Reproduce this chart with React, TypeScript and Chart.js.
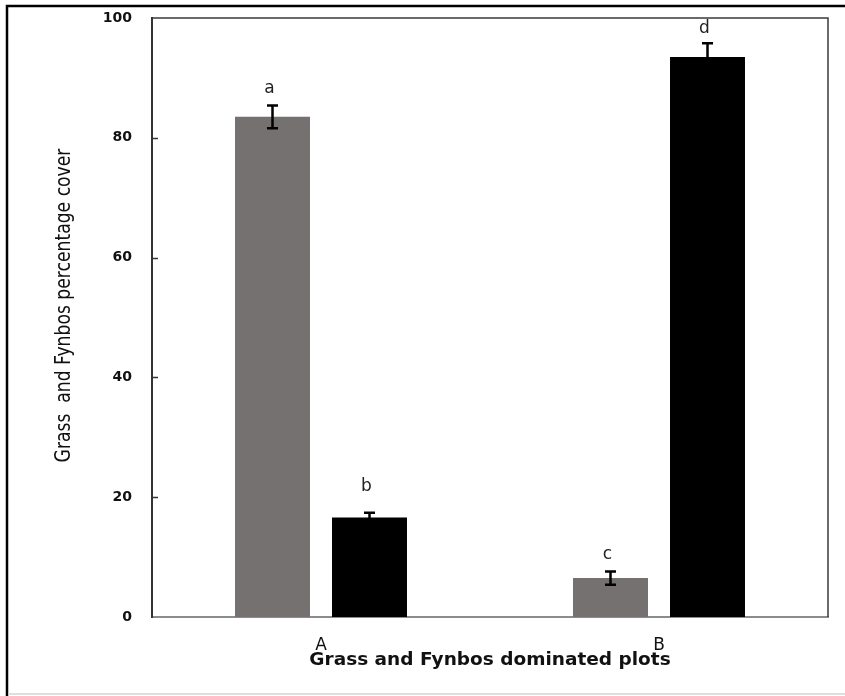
import React, { useEffect, useRef } from 'react';
import { Chart, registerables } from 'chart.js';

Chart.register(...registerables);

const categories = ['A', 'B'];
const grassCover = [83.5, 6.5];
const fynbosCover = [16.6, 93.5];
const grassError = [1.9, 1.1];
const fynbosError = [0.8, 2.3];
const grassLetters = ['a', 'c'];
const fynbosLetters = ['b', 'd'];
const grassLetterY = [87.5, 9.7];
const fynbosLetterY = [21.1, 97.5];
const yMin = 0;
const yMax = 100;
const yStep = 20;
const yTitle = 'Grass  and Fynbos percentage cover';
const xTitle = 'Grass and Fynbos dominated plots';

const errors = [grassError, fynbosError];
const letters = [grassLetters, fynbosLetters];
const letterY = [grassLetterY, fynbosLetterY];

const decorPlugin = {
  id: 'decor',
  beforeDraw(chart: any) {
    const { ctx, width, height } = chart;
    ctx.save();
    ctx.fillStyle = '#ffffff';
    ctx.fillRect(0, 0, width, height);
    // outer frame
    ctx.strokeStyle = '#000000';
    ctx.lineWidth = 2.5;
    ctx.beginPath();
    ctx.moveTo(7, height);
    ctx.lineTo(7, 6);
    ctx.lineTo(width, 6);
    ctx.stroke();
    ctx.strokeStyle = '#d4d4d4';
    ctx.lineWidth = 1.5;
    ctx.beginPath();
    ctx.moveTo(8, height - 2);
    ctx.lineTo(width, height - 2);
    ctx.stroke();
    ctx.restore();
  },
  afterDraw(chart: any) {
    const { ctx, chartArea } = chart;
    const y = chart.scales.y;
    ctx.save();
    // top & right border of plot area
    ctx.strokeStyle = '#3a3a3a';
    ctx.lineWidth = 1.5;
    ctx.beginPath();
    ctx.moveTo(chartArea.left, chartArea.top);
    ctx.lineTo(chartArea.right, chartArea.top);
    ctx.lineTo(chartArea.right, chartArea.bottom);
    ctx.stroke();
    // inward tick marks
    ctx.strokeStyle = '#333333';
    ctx.lineWidth = 1.5;
    y.ticks.forEach((t: any) => {
      if (t.value <= yMin || t.value >= yMax) return;
      const py = Math.round(y.getPixelForValue(t.value)) + 0.5;
      ctx.beginPath();
      ctx.moveTo(chartArea.left, py);
      ctx.lineTo(chartArea.left + 6, py);
      ctx.stroke();
    });
    // y axis title
    ctx.translate(64, (chartArea.top + chartArea.bottom) / 2 - 12);
    ctx.rotate(-Math.PI / 2);
    ctx.scale(1, 1.25);
    ctx.fillStyle = '#111111';
    ctx.font = '17.2px "DejaVu Sans", sans-serif';
    ctx.textAlign = 'center';
    ctx.textBaseline = 'middle';
    ctx.fillText(yTitle, 0, 0);
    ctx.restore();
  },
  afterDatasetsDraw(chart: any) {
    const { ctx } = chart;
    const y = chart.scales.y;
    ctx.save();
    chart.data.datasets.forEach((ds: any, di: number) => {
      const meta = chart.getDatasetMeta(di);
      meta.data.forEach((el: any, i: number) => {
        const v = ds.data[i];
        const e = errors[di][i];
        const x = el.x;
        const yt = y.getPixelForValue(v + e);
        const yb = y.getPixelForValue(v - e);
        ctx.strokeStyle = '#000000';
        ctx.lineWidth = 2.5;
        ctx.beginPath();
        ctx.moveTo(x, yt);
        ctx.lineTo(x, yb);
        ctx.moveTo(x - 5.5, yt);
        ctx.lineTo(x + 5.5, yt);
        ctx.moveTo(x - 5.5, yb);
        ctx.lineTo(x + 5.5, yb);
        ctx.stroke();
        ctx.fillStyle = '#222222';
        ctx.font = '17px "DejaVu Sans", sans-serif';
        ctx.textAlign = 'center';
        ctx.textBaseline = 'alphabetic';
        ctx.fillText(letters[di][i], x - 3, y.getPixelForValue(letterY[di][i]));
      });
    });
    ctx.restore();
  },
};

export default function App() {
  const ref = useRef<HTMLCanvasElement>(null);
  useEffect(() => {
    document.body.style.margin = '0';
    const canvas = ref.current!;
    const chart = new Chart(canvas, {
      type: 'bar',
      data: {
        labels: categories,
        datasets: [
          {
            label: 'Grass',
            data: grassCover,
            backgroundColor: '#757171',
            categoryPercentage: 0.574,
            barPercentage: 0.773,
          },
          {
            label: 'Fynbos',
            data: fynbosCover,
            backgroundColor: '#000000',
            categoryPercentage: 0.574,
            barPercentage: 0.773,
          },
        ],
      },
      options: {
        animation: false,
        responsive: false,
        devicePixelRatio: 1,
        layout: { padding: { left: 0, right: 17, top: 18, bottom: 0 } },
        plugins: {
          legend: { display: false },
          tooltip: { enabled: false },
        },
        scales: {
          x: {
            grid: { display: false, drawTicks: false },
            border: { display: true, color: '#8c8c8c', width: 2 },
            ticks: {
              color: '#111111',
              font: { family: '"DejaVu Sans", sans-serif', size: 17 },
              padding: 18,
            },
            title: {
              display: true,
              text: xTitle,
              color: '#111111',
              font: { family: '"DejaVu Sans", sans-serif', size: 18.5, weight: 'bold' },
              padding: { top: 0, bottom: 25 },
            },
            afterFit(scale: any) {
              scale.height = 79;
            },
          },
          y: {
            min: yMin,
            max: yMax,
            grid: { display: false, drawTicks: true, tickLength: 20 },
            border: { display: true, color: '#333333', width: 2 },
            ticks: {
              stepSize: yStep,
              color: '#111111',
              font: { family: '"DejaVu Sans", sans-serif', size: 14, weight: 'bold' },
              padding: 0,
            },
            title: { display: false },
            afterFit(scale: any) {
              scale.width = 152;
            },
          },
        },
      },
      plugins: [decorPlugin],
    });
    return () => chart.destroy();
  }, []);
  return (
    <div style={{ width: 845, height: 696 }}>
      <canvas ref={ref} width={845} height={696} />
    </div>
  );
}
